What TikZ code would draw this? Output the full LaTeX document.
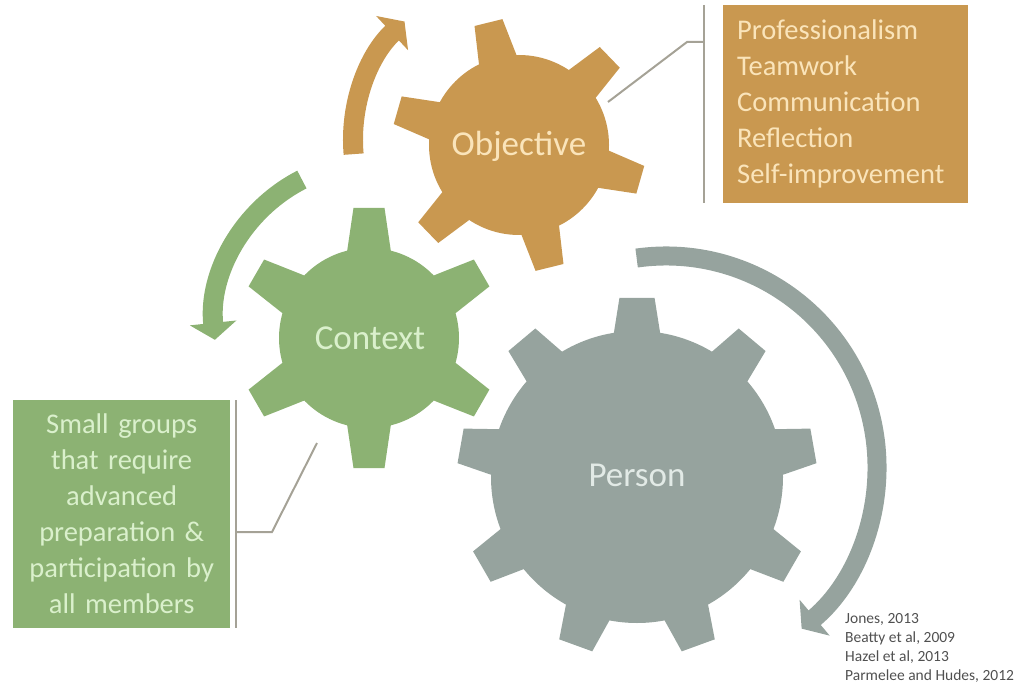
\documentclass[tikz,border=0pt]{standalone}
\usepackage{fontspec}
\setmainfont{Carlito}
\usetikzlibrary{arrows.meta,positioning}
\definecolor{objcol}{RGB}{201,152,80}
\definecolor{ctxcol}{RGB}{140,178,115}
\definecolor{percol}{RGB}{150,163,158}
\definecolor{objtext}{RGB}{250,228,186}
\definecolor{ctxtext}{RGB}{218,240,204}
\definecolor{pertext}{RGB}{226,234,230}
\definecolor{leadcol}{RGB}{165,162,150}
\definecolor{citecol}{RGB}{80,80,80}
\begin{document}
\begin{tikzpicture}
  [x=1pt,y=-1pt,
   gearlabel/.style={font=\fontsize{35}{40}\selectfont},
   listbox/.style={inner xsep=14pt,inner ysep=0pt,anchor=north west,font=\fontsize{28.5}{36}\selectfont},
   lead/.style={draw=leadcol,line width=2pt},
   turn/.style={line width=20pt,-{Triangle[width=46pt,length=17pt]}}]
  \useasboundingbox (0,0) rectangle (1023,687);

  % gears
  \fill[objcol] (519,145) circle[radius=90];
  \foreach \a in {16,76,...,316}
    \fill[objcol,shift={(519,145)}] (\a-15:80) -- (\a-6.5:127) -- (\a+6.5:127) -- (\a+15:80) -- cycle;
  \fill[ctxcol] (369,338) circle[radius=90];
  \foreach \a in {30,90,...,330}
    \fill[ctxcol,shift={(369,338)}] (\a-17:80) -- (\a-6.8:131) -- (\a+6.8:131) -- (\a+17:80) -- cycle;
  \fill[percol] (637,477) circle[radius=146];
  \foreach \a in {30,70,...,350}
    \fill[percol,shift={(637,477)}] (\a-10.5:136) -- (\a-5.6:180) -- (\a+5.6:180) -- (\a+10.5:136) -- cycle;

  % turning arrows
  \draw[turn,objcol] (515,140) ++(175:162) arc[start angle=175,end angle=227,radius=162];
  \draw[turn,ctxcol] (375,323) ++(243:161) arc[start angle=243,end angle=174,radius=161];
  \draw[turn,percol,line width=19pt] (666,467) ++(262:211) arc[start angle=262,end angle=410,radius=211];

  \node[gearlabel,objtext] (objective) at (519,146) {Objective};
  \node[gearlabel,ctxtext] (context) at (370,338) {Context};
  \node[gearlabel,pertext] (person) at (637,475) {Person};

  % lists
  \node[listbox,fill=objcol,text=objtext,text width=217pt,minimum height=198pt,align=left] (objlist) at (723,5)
    {Professionalism\\Teamwork\\Communication\\Reflection\\Self-improvement};
  \node[listbox,fill=ctxcol,text=ctxtext,text width=189pt,minimum height=228pt,align=center] (ctxlist) at (13,400)
    {Small groups\\that require\\advanced\\preparation \&\\participation by\\all members};

  \coordinate (objbar) at ([xshift=-19pt]objlist.north west);
  \coordinate (objedge) at (608,102);
  \coordinate (objknee) at (687,42);
  \draw[lead] (objbar) -- ([xshift=-19pt]objlist.south west);
  \draw[lead] (objedge) -- (objknee) -- (objknee -| objbar);

  \coordinate (ctxbar) at ([xshift=6pt]ctxlist.north east);
  \coordinate (ctxedge) at (317,443);
  \coordinate (ctxknee) at (272,532);
  \draw[lead] (ctxbar) -- ([xshift=6pt]ctxlist.south east);
  \draw[lead] (ctxedge) -- (ctxknee) -- (ctxknee -| ctxbar);

  \node[font=\fontsize{15.5}{19}\selectfont,text=citecol,align=left,anchor=north west,inner sep=0pt] (refs) at (845,613)
    {Jones, 2013\\Beatty et al, 2009\\Hazel et al, 2013\\Parmelee and Hudes, 2012};
\end{tikzpicture}
\end{document}
